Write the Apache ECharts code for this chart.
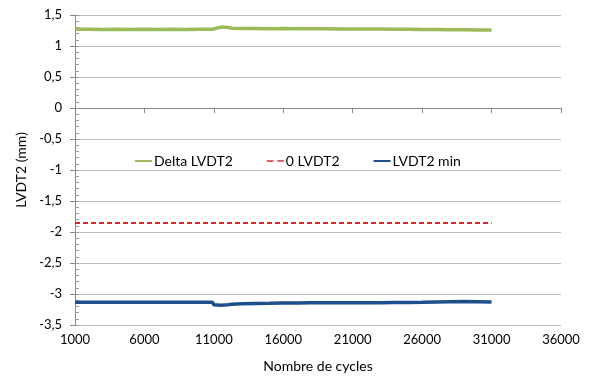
<!DOCTYPE html>
<html>
<head>
<meta charset="utf-8">
<script src="https://cdn.jsdelivr.net/npm/echarts@6/dist/echarts.min.js"></script>
<style>html,body{margin:0;padding:0;background:#fff}#c{width:592px;height:380px}</style>
</head>
<body>
<div id="c"></div>
<script>
const xTicks = [1000, 6000, 11000, 16000, 21000, 26000, 31000, 36000];
const yTicks = [-3.5, -3, -2.5, -2, -1.5, -1, -0.5, 0, 0.5, 1, 1.5];

const cycles = [1000, 2000, 3000, 4000, 5000, 6000, 7000, 8000, 9000, 10000, 10900, 11000, 11500, 12000, 12300, 13000, 14000, 15000, 16000, 17000, 18000, 19000, 20000, 21000, 22000, 23000, 24000, 25000, 26000, 27000, 28000, 29000, 30000, 31000];
const deltaLVDT2 = [1.27, 1.27, 1.268, 1.27, 1.268, 1.27, 1.268, 1.27, 1.268, 1.27, 1.27, 1.30, 1.305, 1.30, 1.285, 1.283, 1.282, 1.28, 1.281, 1.279, 1.278, 1.277, 1.276, 1.276, 1.274, 1.273, 1.272, 1.27, 1.268, 1.266, 1.264, 1.262, 1.26, 1.258];
const zeroLVDT2 = [-1.855, -1.855, -1.855, -1.855, -1.855, -1.855, -1.855, -1.855, -1.855, -1.855, -1.855, -1.855, -1.855, -1.855, -1.855, -1.855, -1.855, -1.855, -1.855, -1.855, -1.855, -1.855, -1.855, -1.855, -1.855, -1.855, -1.855, -1.855, -1.855, -1.855, -1.855, -1.855, -1.855, -1.855];
const lvdt2Min = [-3.135, -3.133, -3.135, -3.132, -3.134, -3.133, -3.135, -3.133, -3.134, -3.133, -3.135, -3.175, -3.18, -3.172, -3.165, -3.158, -3.152, -3.15, -3.147, -3.145, -3.143, -3.142, -3.142, -3.14, -3.142, -3.14, -3.138, -3.138, -3.135, -3.13, -3.125, -3.122, -3.125, -3.13];

const pairs = (ys) => cycles.map((c, i) => [c, ys[i]]);
const FONT = 'Lato';

const chart = echarts.init(document.getElementById('c'), null, {renderer: 'canvas'});
chart.setOption({
  animation: false,
  backgroundColor: '#ffffff',
  textStyle: {fontFamily: FONT},
  grid: {left: 75, right: 31, top: 15, bottom: 55},
  legend: {
    left: 130, top: 149, itemWidth: 17, itemHeight: 2, itemGap: 34,
    icon: 'rect',
    textStyle: {fontFamily: FONT, fontSize: 14, color: '#000', padding: [0, 0, 0, -3]},
    data: [
      {name: 'Delta LVDT2', icon: 'rect'},
      {name: '0 LVDT2', icon: 'path://M0,0 h5 v1 h-5 z M8,0 h5 v1 h-5 z'},
      {name: 'LVDT2 min', icon: 'rect'}
    ]
  },
  xAxis: {
    type: 'value', min: 1000, max: 36000, interval: 5000,
    name: 'Nombre de cycles', nameLocation: 'middle', nameGap: 34,
    nameTextStyle: {fontFamily: FONT, fontSize: 14, color: '#000'},
    axisLine: {lineStyle: {color: '#888', width: 1}},
    axisTick: {show: true, length: 5, lineStyle: {color: '#888'}},
    axisLabel: {fontFamily: FONT, fontSize: 13, color: '#000', margin: 8,
      formatter: v => String(v)},
    splitLine: {show: false}
  },
  yAxis: [{
    type: 'value', min: -3.5, max: 1.5, interval: 0.5,
    name: 'LVDT2 (mm)', nameLocation: 'middle', nameGap: 47, nameRotate: 90,
    nameTextStyle: {fontFamily: FONT, fontSize: 14, color: '#000'},
    axisLine: {show: true, lineStyle: {color: '#888', width: 1}},
    axisTick: {show: true, length: 5, lineStyle: {color: '#888'}},
    axisLabel: {fontFamily: FONT, fontSize: 13, color: '#000', margin: 13,
      formatter: v => String(Math.round(v * 10) / 10).replace('.', ',')},
    splitLine: {show: true, lineStyle: {color: '#bdbdbd', width: 1}}
  }, {
    type: 'value', min: -3.5, max: 1.5, interval: 0.1, position: 'left', offset: 0,
    axisLine: {show: false},
    axisTick: {show: true, inside: true, length: 4, lineStyle: {color: '#999'}},
    axisLabel: {show: false},
    splitLine: {show: false}
  }],
  series: [
    {name: 'Delta LVDT2', type: 'line', symbol: 'none', data: pairs(deltaLVDT2),
     color: '#9bbb59', lineStyle: {color: '#9bbb59', width: 3.5}},
    {name: '0 LVDT2', type: 'line', symbol: 'none', data: pairs(zeroLVDT2),
     color: '#e0262b', lineStyle: {color: '#e0262b', width: 2, type: [5, 3]}},
    {name: 'LVDT2 min', type: 'line', symbol: 'none', data: pairs(lvdt2Min),
     color: '#1f4e8c', lineStyle: {color: '#1f4e8c', width: 3.5}}
  ]
});
</script>
</body>
</html>
